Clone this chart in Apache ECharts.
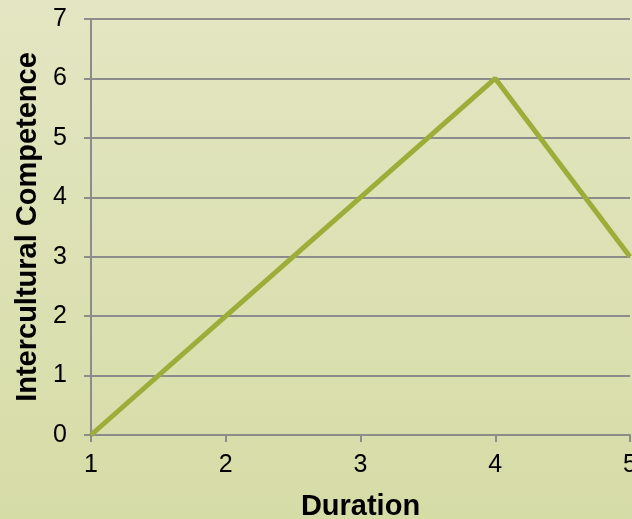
<!DOCTYPE html>
<html>
<head>
<meta charset="utf-8">
<script src="https://cdn.jsdelivr.net/npm/echarts@6/dist/echarts.min.js"></script>
<style>
  html, body { margin: 0; padding: 0; }
  #chart { width: 632px; height: 519px; }
</style>
</head>
<body>
<div id="chart"></div>
<script>
// Duration steps and competence scores
const durations = [1, 2, 3, 4, 5];
const competence = [0, 2, 4, 6, 3];
const xTitle = 'Duration';
const yTitle = 'Intercultural Competence';

const chart = echarts.init(document.getElementById('chart'));
const font = '"Liberation Sans", Arial, sans-serif';
const axisGray = '#8c8c8c';

chart.setOption({
  animation: false,
  backgroundColor: {
    type: 'linear', x: 0, y: 0, x2: 0, y2: 1,
    colorStops: [
      { offset: 0, color: '#e3e6c2' },
      { offset: 1, color: '#d6dca6' }
    ]
  },
  grid: {
    left: 91, right: 2, top: 19, bottom: 84,
    containLabel: false,
    outerBoundsMode: 'none'
  },
  xAxis: {
    type: 'value',
    min: 1, max: 5, interval: 1,
    name: xTitle,
    nameLocation: 'middle',
    nameGap: 57,
    nameTextStyle: { fontFamily: font, fontSize: 29, fontWeight: 'bold', color: '#000' },
    axisLine: { show: true, lineStyle: { color: axisGray, width: 2 } },
    axisTick: { show: true, length: 7, lineStyle: { color: axisGray, width: 2 } },
    axisLabel: { fontFamily: font, fontSize: 25, color: '#000', margin: 18, hideOverlap: false },
    splitLine: { show: false }
  },
  yAxis: {
    type: 'value',
    min: 0, max: 7, interval: 1,
    name: yTitle,
    nameLocation: 'middle',
    nameGap: 43,
    nameRotate: 90,
    nameTextStyle: { fontFamily: font, fontSize: 29, fontWeight: 'bold', color: '#000' },
    axisLine: { show: true, lineStyle: { color: axisGray, width: 2 } },
    axisTick: { show: true, length: 7, lineStyle: { color: axisGray, width: 2 } },
    axisLabel: { fontFamily: font, fontSize: 25, color: '#000', margin: 24 },
    splitLine: { show: true, lineStyle: { color: axisGray, width: 2 } }
  },
  series: [{
    type: 'line',
    data: durations.map((d, i) => [d, competence[i]]),
    showSymbol: false,
    lineStyle: { color: '#9cae39', width: 5 },
    clip: true
  }]
});
</script>
</body>
</html>
